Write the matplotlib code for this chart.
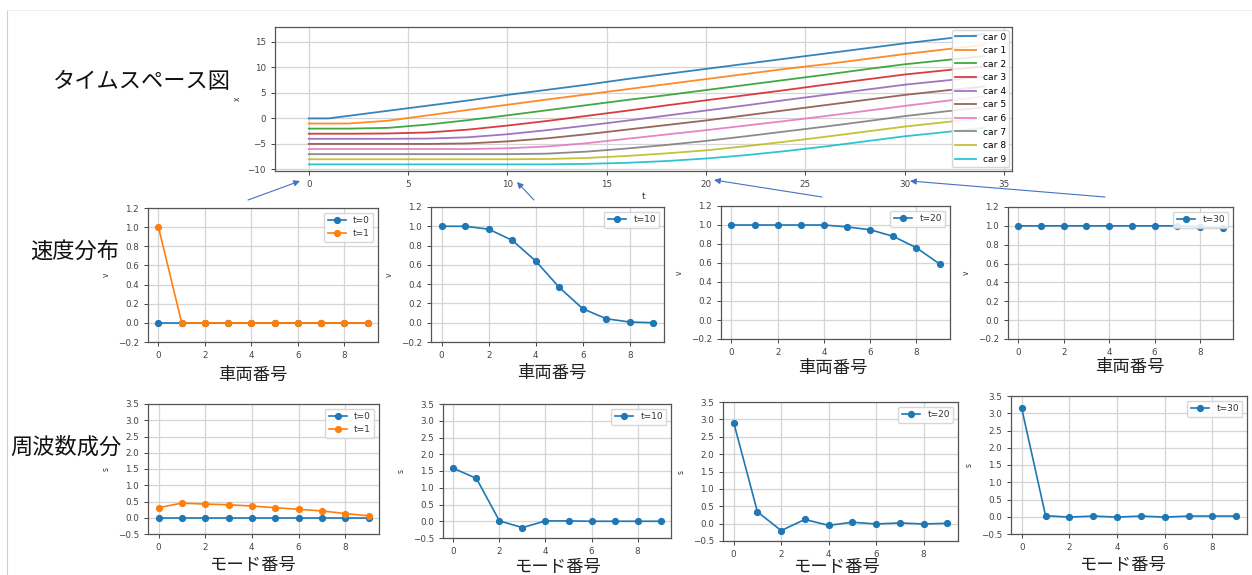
import numpy as np
import matplotlib
matplotlib.use("Agg")
import matplotlib.pyplot as plt

plt.rcParams['font.family'] = ['DejaVu Sans', 'Noto Sans CJK JP']
plt.rcParams['axes.unicode_minus'] = True

# ================= DATOS =================
# time-space diagram
t_pts = [0, 1, 2, 4, 6, 8, 10, 12, 14, 16, 18, 20, 22, 24, 26, 28, 30, 32, 34]
car0 = [0, 0, 0.5, 1.5, 2.5, 3.5, 4.6, 5.6, 6.6, 7.7, 8.7, 9.7, 10.7, 11.7, 12.7, 13.7, 14.7, 15.6, 16.5]
car1 = [-1, -1, -1, -0.45, 0.6, 1.65, 2.67, 3.7, 4.7, 5.7, 6.7, 7.7, 8.7, 9.7, 10.6, 11.6, 12.6, 13.5, 14.4]
car2 = [-2, -2, -2, -1.85, -1.2, -0.35, 0.6, 1.6, 2.6, 3.6, 4.55, 5.55, 6.55, 7.55, 8.55, 9.6, 10.6, 11.4, 12.2]
car3 = [-3, -3, -3, -2.95, -2.75, -2.2, -1.4, -0.5, 0.5, 1.5, 2.55, 3.55, 4.55, 5.55, 6.6, 7.6, 8.6, 9.4, 10.2]
car4 = [-4, -4, -4, -4, -3.95, -3.7, -3.1, -2.3, -1.4, -0.45, 0.55, 1.55, 2.55, 3.6, 4.6, 5.6, 6.6, 7.4, 8.2]
car5 = [-5, -5, -5, -5, -5, -4.9, -4.5, -3.9, -3.1, -2.2, -1.3, -0.4, 0.6, 1.6, 2.6, 3.6, 4.6, 5.45, 6.25]
car6 = [-6, -6, -6, -6, -6, -6, -5.85, -5.5, -4.85, -4.0, -3.15, -2.3, -1.4, -0.5, 0.45, 1.45, 2.45, 3.4, 4.3]
car7 = [-7, -7, -7, -7, -7, -7, -7, -6.9, -6.5, -5.9, -5.2, -4.4, -3.5, -2.55, -1.6, -0.6, 0.45, 1.35, 2.2]
car8 = [-8, -8, -8, -8, -8, -8, -8, -7.95, -7.75, -7.35, -6.85, -6.25, -5.45, -4.55, -3.6, -2.6, -1.6, -0.75, 0.05]
car9 = [-9, -9, -9, -9, -9, -9, -9, -9, -8.9, -8.7, -8.35, -7.85, -7.2, -6.4, -5.5, -4.5, -3.5, -2.7, -1.85]
cars = [car0, car1, car2, car3, car4, car5, car6, car7, car8, car9]

car_idx = list(range(10))

# velocity per car
v_t0 = [0, 0, 0, 0, 0, 0, 0, 0, 0, 0]
v_t1 = [1, 0, 0, 0, 0, 0, 0, 0, 0, 0]
v_t10 = [1.0, 1.0, 0.97, 0.855, 0.64, 0.366, 0.145, 0.041, 0.007, 0.0]
v_t20 = [1.0, 1.0, 1.0, 1.0, 1.0, 0.98, 0.95, 0.88, 0.76, 0.59]
v_t30 = [1.0, 1.0, 1.0, 1.0, 1.0, 1.0, 1.0, 1.0, 0.99, 0.98]

# frequency components per mode
s_t0 = [0, 0, 0, 0, 0, 0, 0, 0, 0, 0]
s_t1 = [0.31, 0.45, 0.42, 0.40, 0.36, 0.31, 0.26, 0.21, 0.13, 0.06]
s_t10 = [1.58, 1.28, 0.01, -0.19, 0.01, 0.01, 0.0, 0.0, 0.0, 0.0]
s_t20 = [2.91, 0.34, -0.2, 0.12, -0.05, 0.04, -0.01, 0.02, -0.01, 0.01]
s_t30 = [3.14, 0.03, -0.01, 0.02, -0.01, 0.02, -0.01, 0.02, 0.02, 0.02]

W, H = 1252, 575
fig = plt.figure(figsize=(W / 100, H / 100), dpi=100)
fig.patch.set_facecolor('white')

C_BLUE = '#1f77b4'
C_ORANGE = '#ff7f0e'
JP = ['Noto Sans CJK JP', 'DejaVu Sans']


def px_axes(l, t, r, b):
    """Crea un eje a partir de coordenadas en pixeles"""
    ax = fig.add_axes([l / W, 1 - b / H, (r - l) / W, (b - t) / H])
    ax.grid(True, color='#d5d5d5', linewidth=0.9)
    ax.set_axisbelow(True)
    for sp in ax.spines.values():
        sp.set_color('#555555')
        sp.set_linewidth(0.9)
    ax.tick_params(labelsize=6.3, colors='#444444', length=3, width=0.7)
    return ax


def small_legend(ax):
    leg = ax.legend(loc='upper right', fontsize=6.5, handlelength=2.0,
                    borderpad=0.4, labelspacing=0.45, framealpha=0.85)
    leg.get_frame().set_edgecolor('#d0d0d0')
    for txt in leg.get_texts():
        txt.set_color('#333333')


# ================= TIME-SPACE =================
ax = px_axes(275, 27, 1012, 171)
for i, x in enumerate(cars):
    ax.plot(t_pts, x, linewidth=1.3, alpha=0.9, label=f'car {i}')
ax.set_xlim(-1.7, 35.4)
ax.set_ylim(-10.3, 17.9)
ax.set_xticks(range(0, 36, 5))
ax.set_yticks(range(-10, 16, 5))
ax.set_xlabel('t', fontsize=6.5, color='#333333', labelpad=2)
ax.set_ylabel('x', fontsize=5.5, color='#333333', labelpad=4)
leg = ax.legend(loc='upper right', fontsize=6.6, handlelength=2.3,
                borderpad=0.3, labelspacing=0.5, framealpha=0.85,
                borderaxespad=0.3)
leg.get_frame().set_edgecolor('#d0d0d0')

# ================= VELOCIDAD =================
v_boxes = [(148, 208, 378, 342), (431, 207, 664, 342),
           (721, 206, 950, 339), (1008, 207, 1233, 339)]
v_series = [[('t=0', v_t0, C_BLUE), ('t=1', v_t1, C_ORANGE)],
            [('t=10', v_t10, C_BLUE)],
            [('t=20', v_t20, C_BLUE)],
            [('t=30', v_t30, C_BLUE)]]
for box, series in zip(v_boxes, v_series):
    ax = px_axes(*box)
    for lab, vals, col in series:
        ax.plot(car_idx, vals, 'o-', color=col, markersize=4.2, linewidth=1.2, label=lab)
    ax.set_ylim(-0.2, 1.2)
    ax.set_xlim(-0.45, 9.45)
    ax.set_yticks(np.arange(-0.2, 1.21, 0.2))
    ax.set_xticks(range(0, 10, 2))
    ax.set_ylabel('v', fontsize=5.5, color='#333333', labelpad=5)
    small_legend(ax)

# ================= FRECUENCIA =================
s_boxes = [(148, 404, 379, 534), (443, 404, 671, 538),
           (723, 402, 958, 541), (1011, 396, 1247, 534)]
s_series = [[('t=0', s_t0, C_BLUE), ('t=1', s_t1, C_ORANGE)],
            [('t=10', s_t10, C_BLUE)],
            [('t=20', s_t20, C_BLUE)],
            [('t=30', s_t30, C_BLUE)]]
for box, series in zip(s_boxes, s_series):
    ax = px_axes(*box)
    for lab, vals, col in series:
        ax.plot(car_idx, vals, 'o-', color=col, markersize=4.2, linewidth=1.2, label=lab)
    ax.set_ylim(-0.5, 3.5)
    ax.set_xlim(-0.45, 9.45)
    ax.set_yticks(np.arange(-0.5, 3.51, 0.5))
    ax.set_xticks(range(0, 10, 2))
    ax.set_ylabel('s', fontsize=5.5, color='#333333', labelpad=5)
    small_legend(ax)

# ================= TEXTOS Y FLECHAS =================
ov = fig.add_axes([0, 0, 1, 1], zorder=10)
ov.set_xlim(0, W)
ov.set_ylim(H, 0)
ov.axis('off')
ov.patch.set_alpha(0)

# marco de la diapositiva
ov.plot([7, 7], [10, H], color='#cfcfcf', linewidth=0.8)
ov.plot([7, W], [10, 10], color='#ececec', linewidth=0.6)

ov.text(142, 82, 'タイムスペース図', fontsize=16, family=JP, ha='center', va='center', color='#111111')
ov.text(75, 251, '速度分布', fontsize=16, family=JP, ha='center', va='center', color='#111111')
ov.text(66, 447, '周波数成分', fontsize=16, family=JP, ha='center', va='center', color='#111111')

for cx, cy in [(253, 375), (552, 373), (833, 368), (1130, 367)]:
    ov.text(cx, cy, '車両番号', fontsize=12.5, family=JP, ha='center', va='center', color='#222222')
for cx, cy in [(252, 565), (557, 567), (836, 567), (1122, 565)]:
    ov.text(cx, cy, 'モード番号', fontsize=12.5, family=JP, ha='center', va='center', color='#222222')

arrows = [((248, 200), (300, 181)), ((534, 200), (517, 182)),
          ((822, 197), (714, 180)), ((1105, 197), (910, 181))]
for tail, head in arrows:
    ov.annotate('', xy=head, xytext=tail,
                arrowprops=dict(arrowstyle='-|>', color='#4472c4', lw=0.8,
                                mutation_scale=9, shrinkA=0, shrinkB=0))

fig.savefig('out.png', dpi=100)
